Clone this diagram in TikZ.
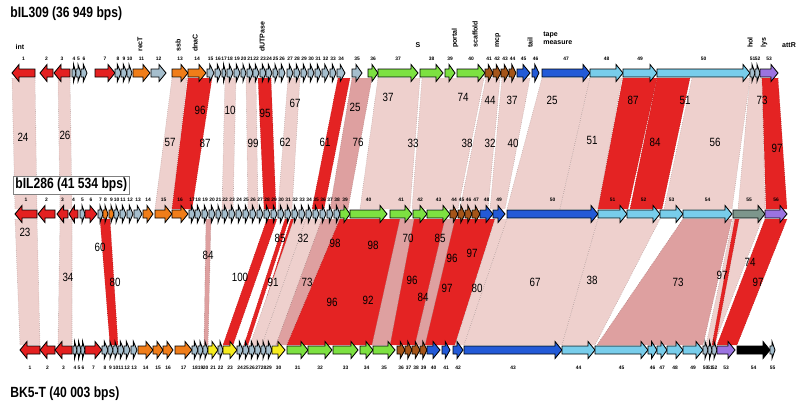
\documentclass[tikz,border=0pt]{standalone}
\usepackage{fontspec}
\setmainfont{Liberation Sans}
\newfontfamily\condfont[FakeStretch=0.82]{Liberation Sans}
\usepackage{tikz}

\definecolor{cred}{RGB}{228,32,32}
\definecolor{corange}{RGB}{240,125,25}
\definecolor{cgray}{RGB}{165,190,205}
\definecolor{cgreen}{RGB}{125,225,65}
\definecolor{cbrown}{RGB}{165,85,25}
\definecolor{cblue}{RGB}{35,90,215}
\definecolor{ccyan}{RGB}{120,205,235}
\definecolor{cpurple}{RGB}{155,115,225}
\definecolor{cyellow}{RGB}{245,235,30}
\definecolor{colive}{RGB}{125,150,140}
\definecolor{clo}{RGB}{238,208,205}
\definecolor{cmd}{RGB}{222,160,160}
\definecolor{chi}{RGB}{228,35,35}

% one gene: from, to, row, colour
\newcommand{\gene}[4]{%
  \pgfmathsetmacro\gd{#2>#1 ? 1 : -1}%
  \pgfmathsetmacro\gh{\gd*min(7,0.6*abs(#2-#1))}%
  \draw[gene, fill=#4] (#1,#3-4) -- ({#2-(\gh)},#3-4) -- ({#2-(\gh)},#3-8.5) -- (#2,#3)
    -- ({#2-(\gh)},#3+8.5) -- ({#2-(\gh)},#3+4) -- (#1,#3+4) -- cycle;}

\begin{document}
\begin{tikzpicture}[x=0.025cm, y=-0.025cm,
  gene/.style={draw=black, line width=0.6pt},
  pct/.style={font=\condfont\fontsize{8.5}{9}\selectfont, inner sep=0pt},
  num/.style={font=\bfseries\fontsize{3.5}{4}\selectfont, inner sep=0pt},
  func/.style={font=\bfseries\fontsize{5}{6}\selectfont, inner sep=0pt},
  title/.style={font=\condfont\bfseries\fontsize{10.5}{12}\selectfont, anchor=west, inner sep=1.5pt}]

\useasboundingbox (0,0) rectangle (800,410);

% bands bIL309 -> bIL286
\foreach \ta/\tb/\ma/\mb/\s in {12/35/15/37/clo, 58/70/60/72/clo, 172/187/155/172/clo,
  188/212/172/192/chi, 225/236/222/233/clo, 246/256/248/258/clo, 258/271/264/276/chi,
  288/300/278/292/clo, 338/350/312/324/chi, 352/372/330/348/cmd, 378/420/360/410/clo,
  422/484/412/458/clo, 486/500/460/488/clo, 502/530/490/505/clo, 542/590/507/560/clo,
  590/622/560/598/clo, 623/657/598/628/chi, 657/690/630/662/chi, 692/750/664/732/clo,
  750/762/738/765/clo, 762/778/766/787/chi}{
  \fill[fill=\s] (\ta,78) -- (\tb,78) -- (\mb,209) -- (\ma,209) -- cycle;
  \draw[draw=\s!75!black, densely dotted] (\ta,78) -- (\ma,209) (\tb,78) -- (\mb,209);
}

% bands bIL286 -> BK5-T
\foreach \ma/\mb/\ba/\bb/\s in {15/37/20/40/clo, 60/72/58/72/clo, 100/110/110/118/chi,
  206/211/204/208/cmd, 267/277/223/233/chi, 285/289/244/248/chi, 291/294/252/255/chi,
  294/306/250/262/clo, 306/322/262/276/clo, 322/340/276/287/cmd, 340/495/287/455/chi,
  400/414/372/390/cmd, 445/455/415/425/cmd, 495/507/455/464/clo, 507/598/464/562/clo,
  598/660/562/595/clo, 683/732/597/703/cmd, 733/762/706/714/clo, 735/739/712/715/chi,
  765/787/717/737/chi}{
  \fill[fill=\s] (\ma,219) -- (\mb,219) -- (\bb,345) -- (\ba,345) -- cycle;
  \draw[draw=\s!75!black, densely dotted] (\ma,219) -- (\ba,345) (\mb,219) -- (\bb,345);
}

% identity values
\foreach \x/\y/\t [count=\i] in {23/137/24, 65/135/26, 170/142/57, 200/110/96, 205/143/87,
  230/110/10, 253/143/99, 265/113/95, 295/103/67, 285/142/62, 325/142/61, 355/107/25,
  358/142/76, 388/97/37, 413/143/33, 463/97/74, 467/143/38, 490/100/44, 490/143/32,
  512/100/37, 513/143/40, 552/100/25, 592/140/51, 633/100/87, 655/142/84, 685/100/51,
  715/142/56, 762/100/73, 777/148/97,
  25/232/23, 100/247/60, 208/255/84, 68/277/34, 115/282/80, 240/277/100, 273/282/91,
  280/238/85, 303/238/32, 307/282/73, 335/243/98, 373/245/98, 408/238/70, 440/238/85,
  452/258/96, 472/253/97, 332/302/96, 368/300/92, 412/280/96, 423/297/84, 447/288/97,
  477/288/80, 535/282/67, 592/280/38, 678/282/73, 722/275/97, 758/282/97, 750/262/74}
  \node[pct] (p\i) at (\x,\y) {\t};

% bIL309
\foreach \a/\b/\c [count=\n] in {35/12/cred, 53/40/cred, 70/54/cred, 72/76/cgray, 76/81/cgray,
  81/87/cgray, 95/115/cred, 115/121/cgray, 121/127/cgray, 127/132/cgray, 133/150/corange,
  151/166/cgray, 172/188/corange, 188/206/corange, 207/214/cgray, 215/221/cgray, 222/226/cgray,
  227/233/cgray, 234/240/cgray, 241/246/cgray, 247/253/cgray, 253/259/cgray, 260/266/cgray,
  266/272/cgray, 273/278/cgray, 279/285/cgray, 287/293/cgray, 294/300/cgray, 301/307/cgray,
  308/314/cgray, 315/321/cgray, 322/329/cgray, 330/336/cgray, 337/345/cgray, 352/362/cgray,
  368/378/cgreen, 378/418/cgreen, 420/443/cgreen, 445/455/cgreen, 457/485/cgreen,
  485/493/cbrown, 493/501/cbrown, 501/509/cbrown, 509/516/cbrown, 517/530/cblue, 532/539/cblue,
  542/590/cblue, 590/623/ccyan, 623/657/ccyan, 657/750/ccyan, 750/755/cgray, 755/760/cgray,
  760/778/cpurple}{
  \gene{\a}{\b}{73}{\c}
  \node[num] (tn\n) at ({(\a+\b)/2},59) {\n};
}

% bIL286
\foreach \a/\b/\c [count=\n] in {37/15/cred, 55/38/cred, 68/57/cred, 78/69/cred, 80/85/cgray,
  85/97/cred, 98/103/cgray, 103/108/corange, 109/114/corange, 114/119/cgray, 120/126/cgray,
  127/133/cgray, 134/142/cgray, 143/153/corange, 155/172/corange, 172/188/corange,
  189/195/cgray, 195/201/cgray, 202/208/cgray, 209/215/cgray, 216/221/cgray, 222/228/cgray,
  229/235/cgray, 236/242/cgray, 243/249/cgray, 250/256/cgray, 257/263/cgray, 264/270/cgray,
  271/277/cgray, 278/284/cgray, 285/291/cgray, 292/298/cgray, 299/305/cgray, 306/312/cgray,
  313/319/cgray, 320/326/cgray, 327/333/cgray, 334/340/cgray, 340/350/cgreen, 350/387/cgreen,
  390/412/cgreen, 413/427/cgreen, 427/450/cgreen, 450/458/cbrown, 458/465/cbrown,
  465/472/cbrown, 472/480/cbrown, 480/493/cblue, 493/505/cblue, 507/598/cblue, 598/627/ccyan,
  627/660/ccyan, 660/683/ccyan, 683/732/ccyan, 733/765/colive, 765/787/cpurple}{
  \gene{\a}{\b}{214}{\c}
  \node[num] (mn\n) at ({(\a+\b)/2},200) {\n};
}

% BK5-T
\foreach \a/\b/\c [count=\n] in {40/20/cred, 55/40/cred, 72/55/cred, 73/77/cgray, 77/81/cgray,
  81/85/cgray, 85/102/cred, 102/108/cgray, 108/113/cgray, 113/118/cgray, 118/124/cgray,
  124/130/cgray, 131/137/cgray, 138/153/corange, 153/163/corange, 163/173/corange,
  175/192/corange, 192/198/cgray, 198/203/cgray, 203/208/cgray, 208/218/cyellow, 218/223/cgray,
  223/237/cyellow, 237/243/cgray, 243/249/cgray, 249/255/cgray, 255/261/cgray, 261/266/cgray,
  266/272/cgray, 272/285/cyellow, 287/308/cgreen, 308/332/cgreen, 333/358/cgreen,
  360/373/cgreen, 373/395/cgreen, 397/405/cbrown, 405/412/cbrown, 412/420/cbrown,
  420/427/cbrown, 427/440/cblue, 442/450/cblue, 453/463/cblue, 464/562/cblue, 562/595/ccyan,
  595/648/ccyan, 648/657/ccyan, 657/667/ccyan, 667/683/ccyan, 683/703/ccyan, 703/708/cgray,
  708/712/cgray, 712/717/cgray, 717/735/cpurple, 737/770/black, 770/775/cgray}{
  \gene{\a}{\b}{350}{\c}
  \node[num] (bn\n) at ({(\a+\b)/2},368) {\n};
}

% gene functions
\node[func] (int) at (20,47) {int};
\node[func, rotate=90, anchor=west] (recT) at (140,52) {recT};
\node[func, rotate=90, anchor=west] (ssb) at (178,52) {ssb};
\node[func, rotate=90, anchor=west] (dnaC) at (195,52) {dnaC};
\node[func, rotate=90, anchor=west] (dut) at (262,52) {dUTPase};
\node[func] (terS) at (418,45) {S};
\node[func, rotate=90, anchor=west] (portal) at (455,48) {portal};
\node[func, rotate=90, anchor=west] (scaf) at (475,48) {scaffold};
\node[func, rotate=90, anchor=west] (mcp) at (498,48) {mcp};
\node[func, rotate=90, anchor=west] (tail) at (530,48) {tail};
\node[func, align=left, anchor=west] (tmp) at (543,38) {tape\\measure};
\node[func, rotate=90, anchor=west] (hol) at (750,48) {hol};
\node[func, rotate=90, anchor=west] (lys) at (764,48) {lys};
\node[func] (attR) at (789,45) {attR};

% phage names
\node[title] (bil309) at (8,14) {bIL309 (36 949 bps)};
\node[title, draw=gray, line width=0.4pt, fill=white] (bil286) at (13,185) {bIL286 (41 534 bps)};
\node[title] (bk5t) at (8,394) {BK5-T (40 003 bps)};

\end{tikzpicture}
\end{document}
